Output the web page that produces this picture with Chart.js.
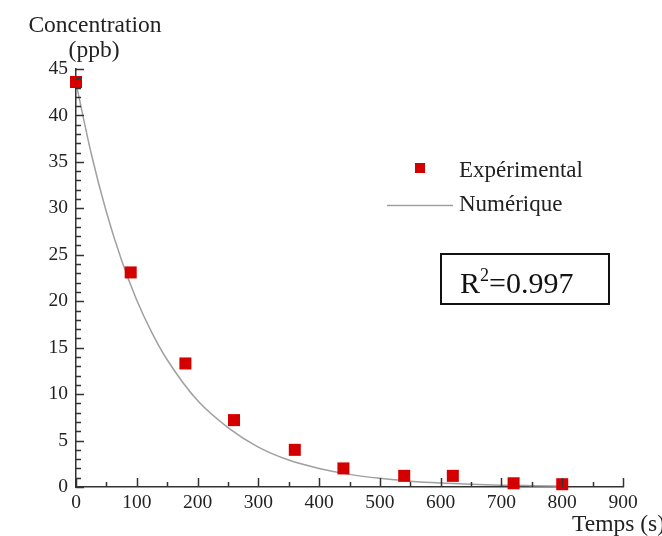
<!DOCTYPE html>
<html>
<head>
<meta charset="utf-8">
<script src="https://cdn.jsdelivr.net/npm/chart.js@4.4.1/dist/chart.umd.min.js"></script>
<style>
  html, body { margin: 0; padding: 0; background: #fff; }
  #wrap { width: 662px; height: 536px; position: relative; }
</style>
</head>
<body>
<div id="wrap"><canvas id="decayChart"></canvas></div>
<script>
// measured points (s, ppb)
const expTimes = [0, 90, 180, 260, 360, 440, 540, 620, 720, 800];
const expConc = [43.6, 23.1, 13.3, 7.2, 4.0, 2.0, 1.2, 1.2, 0.4, 0.3];

// simulated curve
const numTimes = [0, 25, 50, 75, 100, 125, 150, 200, 250, 300, 350, 400, 450, 500, 550, 600, 650, 700, 750, 800];
const numConc = [43.5, 35.9, 29.6, 24.4, 20.1, 16.6, 13.7, 9.3, 6.4, 4.3, 2.9, 2.0, 1.36, 0.93, 0.63, 0.43, 0.29, 0.2, 0.14, 0.09];

const xTicks = [0, 100, 200, 300, 400, 500, 600, 700, 800, 900];
const yTicks = [0, 5, 10, 15, 20, 25, 30, 35, 40, 45];

const serif = "'Liberation Serif', 'Times New Roman', serif";
const axisColor = '#333333';
const red = '#d40000';

// inward ticks, titles, legend and R2 box
const decorPlugin = {
    id: 'decor',
    afterDraw(chart) {
        const ctx = chart.ctx;
        const xs = chart.scales.x;
        const ys = chart.scales.y;
        const area = chart.chartArea;

        ctx.save();
        ctx.strokeStyle = axisColor;
        ctx.lineWidth = 1.5;
        ctx.beginPath();
        for (let v = 0; v <= 45; v++) {
            const py = Math.round(ys.getPixelForValue(v)) + 0.5;
            const len = v % 5 === 0 ? 8 : 5;
            ctx.moveTo(area.left, py);
            ctx.lineTo(area.left + len, py);
        }
        for (let v = 0; v <= 900; v += 50) {
            const px = Math.round(xs.getPixelForValue(v)) + 0.5;
            const len = v % 100 === 0 ? 9 : 5;
            ctx.moveTo(px, area.bottom);
            ctx.lineTo(px, area.bottom - len);
        }
        ctx.stroke();

        // axis titles
        ctx.fillStyle = '#222';
        ctx.font = '23.5px ' + serif;
        ctx.textAlign = 'center';
        ctx.textBaseline = 'alphabetic';
        ctx.fillText('Concentration', 95, 32);
        ctx.fillText('(ppb)', 94, 57);
        ctx.textAlign = 'left';
        ctx.fillText('Temps (s)', 572, 531);

        // legend
        ctx.fillStyle = red;
        ctx.fillRect(415, 163, 10, 10);
        ctx.strokeStyle = '#a0a0a0';
        ctx.lineWidth = 1.5;
        ctx.beginPath();
        ctx.moveTo(387, 205.5);
        ctx.lineTo(453, 205.5);
        ctx.stroke();
        ctx.fillStyle = '#222';
        ctx.textBaseline = 'middle';
        ctx.font = '23px ' + serif;
        ctx.fillText('Expérimental', 459, 171);
        ctx.fillText('Numérique', 459, 205);

        // R2 box
        ctx.strokeStyle = '#111';
        ctx.lineWidth = 2;
        ctx.strokeRect(441, 254, 168, 50);
        ctx.fillStyle = '#111';
        ctx.textBaseline = 'alphabetic';
        ctx.font = '30px ' + serif;
        ctx.fillText('R', 460, 293);
        const w = ctx.measureText('R').width;
        ctx.font = '18px ' + serif;
        ctx.fillText('2', 460 + w, 281);
        const w2 = ctx.measureText('2').width;
        ctx.font = '30px ' + serif;
        ctx.fillText('=0.997', 460 + w + w2, 293);
        ctx.restore();
    }
};

const ctx = document.getElementById('decayChart').getContext('2d');
const decayChart = new Chart(ctx, {
    type: 'scatter',
    data: {
        datasets: [{
            label: 'Expérimental',
            data: expTimes.map((t, i) => ({ x: t, y: expConc[i] })),
            pointStyle: 'rect',
            pointRadius: 8.5,
            pointHoverRadius: 8.5,
            backgroundColor: red,
            borderColor: red,
            borderWidth: 0,
            order: 0
        }, {
            label: 'Numérique',
            data: numTimes.map((t, i) => ({ x: t, y: numConc[i] })),
            showLine: true,
            pointRadius: 0,
            borderColor: '#a0a0a0',
            borderWidth: 1.5,
            cubicInterpolationMode: 'monotone',
            fill: false,
            order: 1
        }]
    },
    options: {
        responsive: true,
        maintainAspectRatio: false,
        animation: false,
        clip: false,
        layout: {
            padding: { top: 69, right: 39, left: 0, bottom: 0 }
        },
        plugins: {
            legend: { display: false },
            tooltip: { enabled: false }
        },
        scales: {
            x: {
                type: 'linear',
                min: 0,
                max: 900,
                afterFit: s => { s.height = 49; },
                afterBuildTicks: s => { s.ticks = xTicks.map(v => ({ value: v })); },
                grid: { display: false, drawTicks: false },
                border: { display: true, color: axisColor, width: 1.5 },
                ticks: {
                    color: '#222',
                    padding: 4,
                    maxRotation: 0,
                    font: { family: serif, size: 19.5 }
                }
            },
            y: {
                type: 'linear',
                min: 0,
                max: 45,
                afterFit: s => { s.width = 76; },
                afterBuildTicks: s => { s.ticks = yTicks.map(v => ({ value: v })); },
                grid: { display: false, drawTicks: false },
                border: { display: true, color: axisColor, width: 1.5 },
                ticks: {
                    color: '#222',
                    padding: 8,
                    font: { family: serif, size: 19.5 }
                }
            }
        }
    },
    plugins: [decorPlugin]
});
</script>
</body>
</html>
